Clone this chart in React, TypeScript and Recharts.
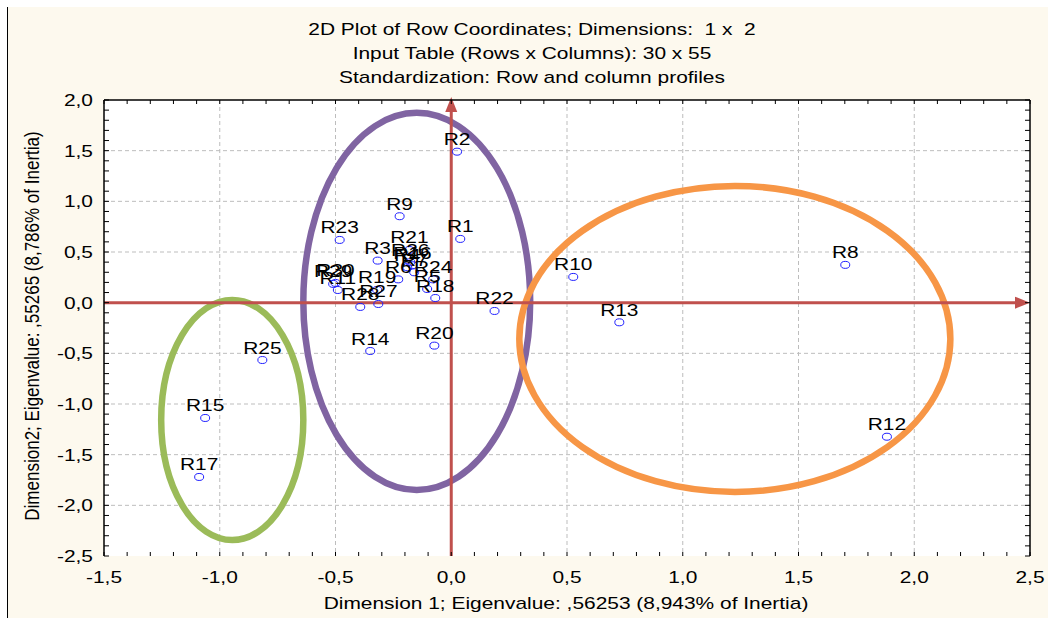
import React from 'react';
import {
  ScatterChart,
  Scatter,
  XAxis,
  YAxis,
  CartesianGrid,
  ReferenceLine,
  ReferenceArea,
} from 'recharts';

// ---- data -------------------------------------------------------------
const rowNames = [
  'R1', 'R2', 'R3', 'R4', 'R5', 'R6', 'R7', 'R8', 'R9', 'R10',
  'R11', 'R12', 'R13', 'R14', 'R15', 'R16', 'R17', 'R18', 'R19', 'R20',
  'R21', 'R22', 'R23', 'R24', 'R25', 'R26', 'R27', 'R28', 'R29', 'R30',
];
const dimension1 = [
  0.039, 0.025, -0.318, -0.19, -0.104, -0.229, -0.16, 1.702, -0.223, 0.527,
  -0.49, 1.882, 0.726, -0.35, -1.063, -0.168, -1.089, -0.069, -0.32, -0.073,
  -0.181, 0.187, -0.482, -0.078, -0.816, -0.177, -0.315, -0.393, -0.51, -0.5,
];
const dimension2 = [
  0.629, 1.49, 0.415, 0.35, 0.135, 0.23, 0.3, 0.373, 0.853, 0.254,
  0.125, -1.323, -0.194, -0.477, -1.138, 0.37, -1.72, 0.046, 0.126, -0.424,
  0.52, -0.082, 0.619, 0.23, -0.566, 0.4, -0.013, -0.042, 0.185, 0.195,
];

// tick positions (minor every 0.1, labelled every 0.5)
const xTicks = [
  -1.5, -1.4, -1.3, -1.2, -1.1, -1.0, -0.9, -0.8, -0.7, -0.6,
  -0.5, -0.4, -0.3, -0.2, -0.1, 0.0, 0.1, 0.2, 0.3, 0.4,
  0.5, 0.6, 0.7, 0.8, 0.9, 1.0, 1.1, 1.2, 1.3, 1.4,
  1.5, 1.6, 1.7, 1.8, 1.9, 2.0, 2.1, 2.2, 2.3, 2.4, 2.5,
];
const yTicks = [
  -2.5, -2.4, -2.3, -2.2, -2.1, -2.0, -1.9, -1.8, -1.7, -1.6,
  -1.5, -1.4, -1.3, -1.2, -1.1, -1.0, -0.9, -0.8, -0.7, -0.6,
  -0.5, -0.4, -0.3, -0.2, -0.1, 0.0, 0.1, 0.2, 0.3, 0.4,
  0.5, 0.6, 0.7, 0.8, 0.9, 1.0, 1.1, 1.2, 1.3, 1.4,
  1.5, 1.6, 1.7, 1.8, 1.9, 2.0,
];
const xLabelTicks = [-1.5, -1.0, -0.5, 0.0, 0.5, 1.0, 1.5, 2.0, 2.5];
const yLabelTicks = [-2.5, -2.0, -1.5, -1.0, -0.5, 0.0, 0.5, 1.0, 1.5, 2.0];
const gridX = [-1.0, -0.5, 0.5, 1.0, 1.5, 2.0];
const gridY = [-2.0, -1.5, -1.0, -0.5, 0.5, 1.0, 1.5];

// cluster ellipses (data units)
const clusterNames = ['green', 'purple', 'orange'];
const clusterCx = [-0.946, -0.149, 1.225];
const clusterCy = [-1.158, 0.012, -0.358];
const clusterRx = [0.307, 0.49, 0.931];
const clusterRy = [1.185, 1.861, 1.51];
const clusterColors = ['#9bbb59', '#8064a2', '#f79646'];

const titleLines = [
  '2D Plot of Row Coordinates; Dimensions:  1 x  2',
  'Input Table (Rows x Columns): 30 x 55',
  'Standardization: Row and column profiles',
];
const xTitle = 'Dimension 1; Eigenvalue: ,56253 (8,943% of Inertia)';
const yTitle = 'Dimension2; Eigenvalue: ,55265 (8,786% of Inertia)';

const points = rowNames.map((name, i) => ({ name, x: dimension1[i], y: dimension2[i] }));

// ---- styling helpers ---------------------------------------------------
const FONT = '"Liberation Sans", Arial, sans-serif';
const STRETCH = 1.23;
const CREAM = '#fdf9ee';
const RED = '#c0504d';

const near = (a: number, list: number[]) => list.some((v) => Math.abs(v - a) < 1e-6);
const fmt = (v: number) => {
  const s = Math.abs(v).toFixed(1).replace('.', ',');
  return v < -1e-9 ? '-' + s : s;
};

const BottomTick = (props: any) => {
  const { x, y, payload } = props;
  const v = payload.value;
  const major = near(v, xLabelTicks);
  return (
    <g>
      <line x1={x} y1={y} x2={x} y2={y - 4} stroke="#000" strokeWidth={1} />
      {major && (
        <text
          transform={`translate(${x} ${y + 27}) scale(${STRETCH} 1)`}
          textAnchor="middle"
          fontFamily={FONT}
          fontSize={17}
          fill="#000"
        >
          {fmt(v)}
        </text>
      )}
    </g>
  );
};

const TopTick = (props: any) => {
  const { x, y } = props;
  return <line x1={x} y1={y} x2={x} y2={y + 4} stroke="#000" strokeWidth={1} />;
};

const LeftTick = (props: any) => {
  const { x, y, payload } = props;
  const v = payload.value;
  const major = near(v, yLabelTicks);
  return (
    <g>
      <line x1={x} y1={y} x2={x + 5} y2={y} stroke="#000" strokeWidth={1} />
      {major && (
        <text
          transform={`translate(${x - 11} ${y + 6}) scale(${STRETCH} 1)`}
          textAnchor="end"
          fontFamily={FONT}
          fontSize={17}
          fill="#000"
        >
          {fmt(v)}
        </text>
      )}
    </g>
  );
};

const RightTick = (props: any) => {
  const { x, y } = props;
  return <line x1={x} y1={y} x2={x - 5} y2={y} stroke="#000" strokeWidth={1} />;
};

const Marker = (props: any) => {
  const { cx, cy } = props;
  return <ellipse cx={cx} cy={cy} rx={4.5} ry={3.5} fill="none" stroke="#1f1fff" strokeWidth={1} />;
};

const PointLabel = (props: any) => {
  const { cx, cy, payload } = props;
  return (
    <text
      transform={`translate(${cx} ${cy - 6.5}) scale(${STRETCH} 1)`}
      textAnchor="middle"
      fontFamily={FONT}
      fontSize={17}
      fill="#000"
    >
      {payload.name}
    </text>
  );
};

const VArrowLine = (props: any) => {
  const { x1, y1, y2 } = props;
  const top = Math.min(y1, y2);
  const bottom = Math.max(y1, y2);
  return (
    <g>
      <line x1={x1} y1={bottom} x2={x1} y2={top + 10} stroke={RED} strokeWidth={3} />
      <polygon points={`${x1},${top - 3} ${x1 - 6},${top + 12} ${x1 + 6},${top + 12}`} fill={RED} />
    </g>
  );
};

const HArrowLine = (props: any) => {
  const { x1, y1, x2 } = props;
  const left = Math.min(x1, x2);
  const right = Math.max(x1, x2);
  return (
    <g>
      <line x1={left} y1={y1} x2={right - 10} y2={y1} stroke={RED} strokeWidth={3} />
      <polygon points={`${right},${y1} ${right - 15},${y1 - 6} ${right - 15},${y1 + 6}`} fill={RED} />
    </g>
  );
};

const makeEllipse = (color: string) => (p: any) => {
  const w = Math.abs(p.width);
  const h = Math.abs(p.height);
  return (
    <ellipse
      cx={p.x + p.width / 2}
      cy={p.y + p.height / 2}
      rx={w / 2}
      ry={h / 2}
      fill="none"
      stroke={color}
      strokeWidth={6.5}
    />
  );
};

const textBase: React.CSSProperties = {
  position: 'absolute',
  fontSize: 17,
  lineHeight: '20px',
  whiteSpace: 'pre',
  color: '#000',
};

export default function App() {
  return (
    <div
      style={{
        position: 'absolute',
        left: 0,
        top: 0,
        width: 1048,
        height: 618,
        background: '#fff',
        overflow: 'hidden',
        fontFamily: FONT,
      }}
    >
      <div
        style={{
          position: 'absolute',
          left: 7,
          top: 7,
          right: 0,
          bottom: 0,
          background: CREAM,
          borderLeft: '1px solid #000',
        }}
      />
      <div style={{ position: 'absolute', left: 0, top: 0 }}>
        <ScatterChart width={1048} height={618} margin={{ top: 99, right: 17, bottom: 31, left: 54 }}>
          <CartesianGrid
            fill="#ffffff"
            horizontalValues={gridY}
            verticalValues={gridX}
            stroke="#bdbdbd"
            strokeDasharray="4 3"
          />
          <XAxis
            dataKey="x"
            type="number"
            domain={[-1.5, 2.5]}
            ticks={xTicks}
            interval={0}
            height={31}
            tickSize={0}
            tickMargin={0}
            axisLine={false}
            tickLine={false}
            tick={BottomTick}
            allowDataOverflow
          />
          <XAxis
            xAxisId="t"
            orientation="top"
            dataKey="x"
            type="number"
            domain={[-1.5, 2.5]}
            ticks={xTicks}
            interval={0}
            height={1}
            tickSize={0}
            tickMargin={0}
            axisLine={{ stroke: '#000', strokeWidth: 1.5 }}
            tickLine={false}
            tick={TopTick}
            allowDataOverflow
          />
          <YAxis
            dataKey="y"
            type="number"
            domain={[-2.5, 2.0]}
            ticks={yTicks}
            interval={0}
            width={50}
            tickSize={0}
            tickMargin={0}
            axisLine={{ stroke: '#000', strokeWidth: 1.5 }}
            tickLine={false}
            tick={LeftTick}
            allowDataOverflow
          />
          <YAxis
            yAxisId="r"
            orientation="right"
            dataKey="y"
            type="number"
            domain={[-2.5, 2.0]}
            ticks={yTicks}
            interval={0}
            width={1}
            tickSize={0}
            tickMargin={0}
            axisLine={{ stroke: '#000', strokeWidth: 1.5 }}
            tickLine={false}
            tick={RightTick}
            allowDataOverflow
          />
          <ReferenceLine x={0} stroke={RED} strokeWidth={3} shape={VArrowLine} ifOverflow="visible" />
          <ReferenceLine y={0} stroke={RED} strokeWidth={3} shape={HArrowLine} ifOverflow="visible" />
          {clusterNames.map((n, i) => (
            <ReferenceArea
              key={n}
              x1={clusterCx[i] - clusterRx[i]}
              x2={clusterCx[i] + clusterRx[i]}
              y1={clusterCy[i] - clusterRy[i]}
              y2={clusterCy[i] + clusterRy[i]}
              ifOverflow="visible"
              shape={makeEllipse(clusterColors[i])}
            />
          ))}
          <Scatter name="markers" data={points} shape={Marker} isAnimationActive={false} />
          <Scatter name="labels" data={points} shape={PointLabel} isAnimationActive={false} />
        </ScatterChart>
      </div>
      {titleLines.map((t, i) => (
        <div
          key={i}
          style={{
            ...textBase,
            left: 532,
            top: 20 + i * 24,
            transform: `translateX(-50%) scaleX(${STRETCH})`,
          }}
        >
          {t}
        </div>
      ))}
      <div
        style={{
          ...textBase,
          left: 566,
          top: 594,
          transform: `translateX(-50%) scaleX(${STRETCH})`,
        }}
      >
        {xTitle}
      </div>
      <div style={{ position: 'absolute', left: 33, top: 326, width: 0, height: 0 }}>
        <div
          style={{
            ...textBase,
            left: 0,
            top: 0,
            transform: `translate(-50%, -50%) rotate(-90deg) scaleY(${STRETCH})`,
          }}
        >
          {yTitle}
        </div>
      </div>
    </div>
  );
}
